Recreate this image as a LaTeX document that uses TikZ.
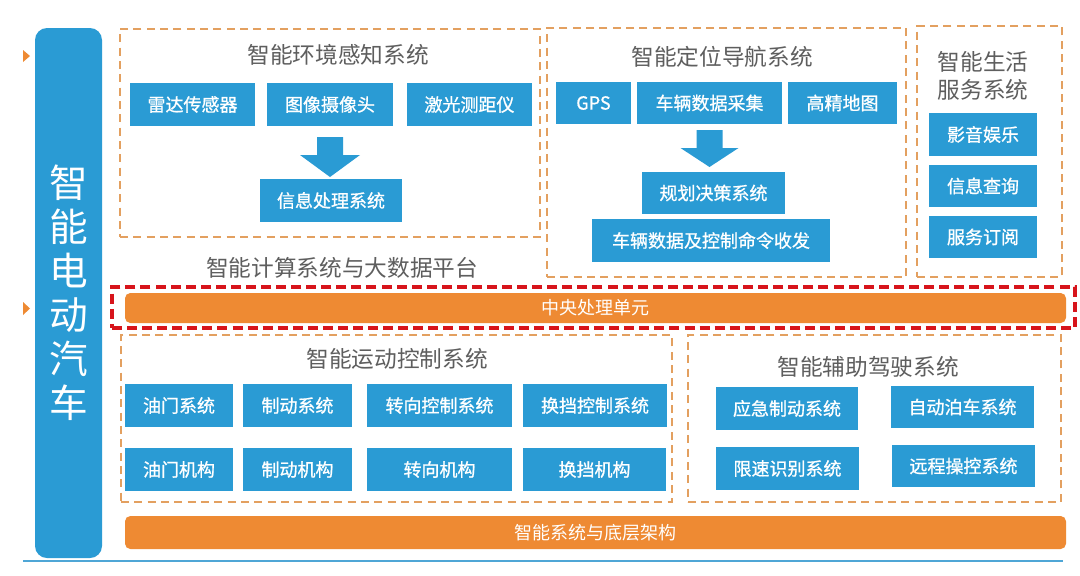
\documentclass[tikz,border=0pt]{standalone}
\usepackage{fontspec}
\newfontfamily\cjk{Noto Sans CJK SC}
\newfontfamily\cjkm{Noto Sans CJK SC}[FakeBold=0.9]
\usetikzlibrary{calc}
\definecolor{cblue}{HTML}{2A9BD4}
\definecolor{corange}{HTML}{EE8A33}
\definecolor{cdash}{HTML}{E3A060}
\definecolor{cred}{HTML}{D7141B}
\definecolor{cgray}{HTML}{5E5E5E}
\definecolor{cline}{HTML}{4FA6D6}
\newcommand\rectnode[7]{\node[#2, minimum width={(#5-#3)*0.75pt}, minimum height={(#6-#4)*0.75pt}] (#1) at ({(#3+#5)/2},{(#4+#6)/2}) {#7};}
\tikzset{
  bx/.style={fill=cblue, text=white, inner sep=0pt, outer sep=0pt, font=\cjkm\fontsize{13.5}{16}\selectfont},
  grp/.style={draw=cdash, line width=2pt, dash pattern=on 6pt off 4pt, inner sep=0pt},
  redgrp/.style={draw=cred, line width=3.2pt, dash pattern=on 7.5pt off 3.8pt, inner sep=0pt},
  obar/.style={fill=corange, rounded corners=4pt, text=white, inner sep=0pt, font=\cjk\fontsize{13.5}{16}\selectfont},
  leftbar/.style={fill=cblue, rounded corners=9pt, text=white, inner sep=0pt, align=center, font=\cjk\fontsize{29}{33}\selectfont},
  title/.style={text=cgray, inner sep=0pt, align=center, font=\cjk\fontsize{17}{20.5}\selectfont},
  barrow/.style={fill=cblue},
  tri/.style={fill=corange}
}
\begin{document}
\begin{tikzpicture}[x=0.75pt,y=-0.75pt]
\useasboundingbox[fill=white] (0,0) rectangle (1080,575);

% left bar
\rectnode{car}{leftbar}{35}{28}{102}{558}{智\\能\\电\\动\\汽\\车}
\fill[tri] (23,50) -- (30,56) -- (23,62) -- cycle;
\fill[tri] (23,302) -- (30,308.5) -- (23,315) -- cycle;
\draw[cline, line width=1.2pt] (23,561) -- (1063,561);

% group 1
\rectnode{g1}{grp}{120}{29}{540}{237}{}
\node[title] (t1) at (338,55) {智能环境感知系统};
\rectnode{radar}{bx}{130}{83}{255}{126}{雷达传感器}
\rectnode{cam}{bx}{267}{83}{393}{126}{图像摄像头}
\rectnode{laser}{bx}{407}{83}{532}{126}{激光测距仪}
\rectnode{info}{bx}{260}{179}{402}{222}{信息处理系统}
\path (cam.south) ++(0,11) coordinate (a1t);
\path (info.north) ++(0,-2) coordinate (a1b);
\fill[barrow] ($(a1t)+(-13,0)$) -- ($(a1t)+(13,0)$) -- ($(a1t |- a1b)+(13,-22)$) -- ($(a1t |- a1b)+(30,-22)$) -- (a1t |- a1b) -- ($(a1t |- a1b)+(-30,-22)$) -- ($(a1t |- a1b)+(-13,-22)$) -- cycle;

\node[title] (tc) at (342,268) {智能计算系统与大数据平台};

% group 2
\rectnode{g2}{grp}{547}{28}{906}{277}{}
\node[title] (t2) at (722,57) {智能定位导航系统};
\rectnode{gps}{bx}{556}{82}{631}{124}{GPS}
\rectnode{vdata}{bx}{637}{82}{782}{124}{车辆数据采集}
\rectnode{hdmap}{bx}{788}{82}{897}{124}{高精地图}
\rectnode{plan}{bx}{642}{172}{785}{214}{规划决策系统}
\rectnode{cmd}{bx}{592}{219}{830}{262}{车辆数据及控制命令收发}
\path (vdata.south) ++(0,6) coordinate (a2t);
\path (plan.north) ++(0,-5) coordinate (a2b);
\fill[barrow] ($(a2t)+(-13,0)$) -- ($(a2t)+(13,0)$) -- ($(a2t |- a2b)+(13,-19)$) -- ($(a2t |- a2b)+(29,-19)$) -- (a2t |- a2b) -- ($(a2t |- a2b)+(-29,-19)$) -- ($(a2t |- a2b)+(-13,-19)$) -- cycle;

% group 3
\rectnode{g3}{grp}{917}{26}{1062}{277}{}
\node[title] (t3) at (983,76) {智能生活\\服务系统};
\rectnode{av}{bx}{929}{113}{1037}{156}{影音娱乐}
\rectnode{query}{bx}{929}{165}{1037}{207}{信息查询}
\rectnode{sub}{bx}{929}{216}{1037}{258}{服务订阅}

% central processing
\rectnode{cpu}{obar}{125}{293}{1066}{323}{中央处理单元}
\rectnode{cpubox}{redgrp}{112}{287}{1075}{328}{}

% group 4
\rectnode{g4}{grp}{121}{335}{672}{502}{}
\node[title] (t4) at (397,359) {智能运动控制系统};
\rectnode{thr}{bx}{125}{384}{233}{427}{油门系统}
\rectnode{brk}{bx}{243}{384}{352}{427}{制动系统}
\rectnode{steer}{bx}{367}{384}{512}{427}{转向控制系统}
\rectnode{gear}{bx}{523}{384}{667}{427}{换挡控制系统}
\rectnode{thrm}{bx}{125}{448}{233}{491}{油门机构}
\rectnode{brkm}{bx}{243}{448}{352}{491}{制动机构}
\rectnode{steerm}{bx}{367}{448}{512}{491}{转向机构}
\rectnode{gearm}{bx}{523}{448}{666}{491}{换挡机构}

% group 5
\rectnode{g5}{grp}{688}{335}{1061}{502}{}
\node[title] (t5) at (868,367) {智能辅助驾驶系统};
\rectnode{emb}{bx}{716}{387}{858}{430}{应急制动系统}
\rectnode{park}{bx}{891}{386}{1034}{428}{自动泊车系统}
\rectnode{speed}{bx}{716}{447}{859}{490}{限速识别系统}
\rectnode{remote}{bx}{892}{445}{1035}{487}{远程操控系统}

% bottom bar
\rectnode{base}{obar}{125}{516}{1066}{549}{智能系统与底层架构}
\end{tikzpicture}
\end{document}
